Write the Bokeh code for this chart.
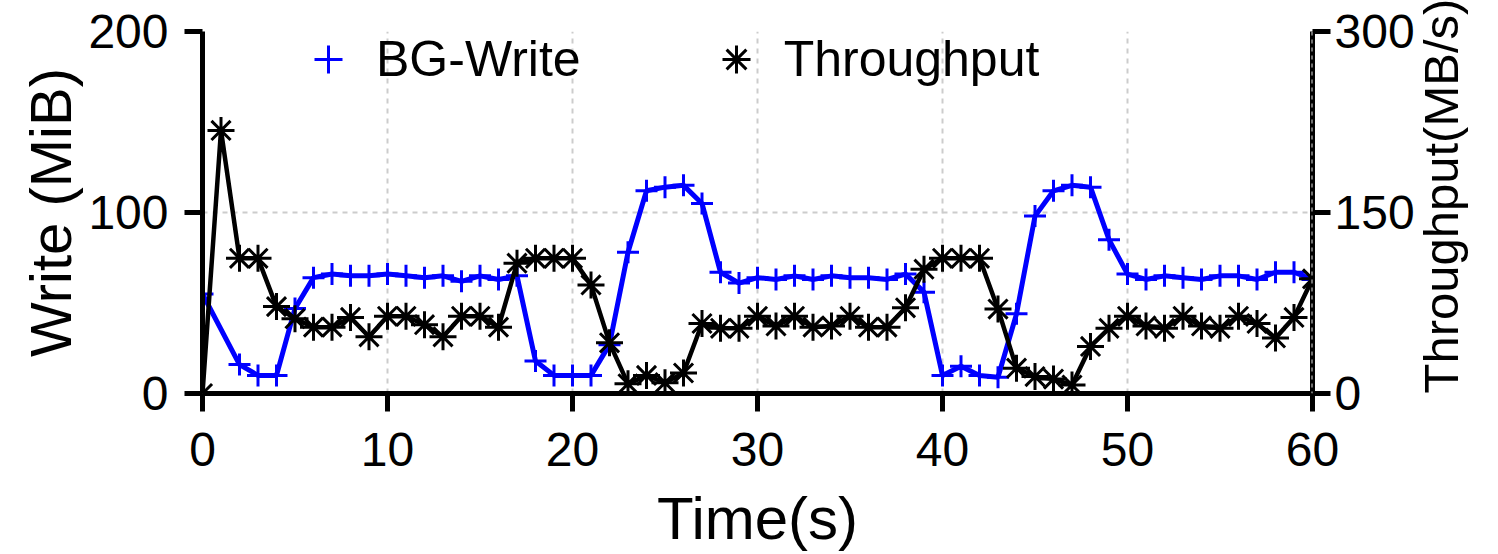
import math
from bokeh.plotting import figure
from bokeh.models import Range1d, LinearAxis, FixedTicker, Legend, LegendItem, Span
from bokeh.embed import file_html
from bokeh.resources import INLINE

# ---- data ----
bg_t = [0, 2, 3, 4, 5, 6, 7, 8, 9, 10, 11, 12, 13, 14, 15, 16, 17, 18, 19, 20,
        21, 22, 23, 24, 25, 26, 27, 28, 29, 30, 31, 32, 33, 34, 35, 36, 37, 38, 39, 40,
        41, 42, 43, 44, 45, 46, 47, 48, 49, 50, 51, 52, 53, 54, 55, 56, 57, 58, 59, 60]
bg_write = [55, 16, 10, 10, 47, 64, 66, 65, 65, 66, 65, 64, 65, 62, 65, 63, 65, 18, 10, 10,
            10, 27, 78, 112, 114, 115, 105, 67, 61, 64, 63, 65, 63, 65, 64, 64, 63, 66, 56, 10,
            15, 10, 9, 44, 98, 112, 115, 114, 85, 66, 63, 65, 64, 63, 65, 65, 63, 67, 67, 63]

tp_t = list(range(0, 61))
throughput = [0, 218, 112, 112, 72, 62, 55, 55, 63, 47, 64, 64, 57, 47, 64, 64, 55, 108, 112, 112,
              112, 90, 42, 8, 15, 9, 17, 58, 54, 54, 64, 56, 64, 55, 56, 64, 55, 55, 71, 103,
              112, 112, 112, 70, 21, 14, 12, 7, 39, 54, 64, 56, 54, 64, 56, 54, 64, 58, 46, 63,
              95]

x_ticks = [0, 10, 20, 30, 40, 50, 60]
left_ticks = [0, 100, 200]
right_ticks = [0, 150, 300]

FONT = "Liberation Sans"

p = figure(width=1498, height=554, output_backend="svg", toolbar_location=None,
           x_range=Range1d(0, 60), y_range=Range1d(0, 200),
           min_border_left=202, min_border_right=186, min_border_top=31, min_border_bottom=155)
p.outline_line_color = None
p.extra_y_ranges = {"tp": Range1d(0, 300)}

# grid
p.xgrid.ticker = FixedTicker(ticks=[10, 20, 30, 40, 50])
p.ygrid.ticker = FixedTicker(ticks=[100])
for g in (p.xgrid[0], p.ygrid[0]):
    g.grid_line_color = "#cccccc"
    g.grid_line_dash = "5 5"
    g.grid_line_width = 2

# renderers
bl = p.line(bg_t, bg_write, line_color="#0000ff", line_width=5)
bs = p.scatter(bg_t, bg_write, marker="cross", size=22, line_color="#0000ff", line_width=3)
tl = p.line(tp_t, throughput, line_color="black", line_width=4.5, y_range_name="tp")
ts = p.scatter(tp_t, throughput, marker="asterisk", size=27, line_color="black", line_width=3,
               y_range_name="tp")

def style_axis(ax):
    ax.axis_line_width = 5
    ax.axis_line_color = "black"
    ax.major_tick_line_width = 5
    ax.major_tick_in = 0
    ax.major_tick_out = 18
    ax.minor_tick_line_color = None
    ax.major_label_text_font = FONT
    ax.major_label_text_font_size = "48px"
    ax.major_label_text_color = "black"
    ax.axis_label_text_font = FONT
    ax.axis_label_text_font_style = "normal"
    ax.axis_label_text_color = "black"

xa = p.xaxis[0]
xa.ticker = FixedTicker(ticks=x_ticks)
xa.axis_label = "Time(s)"
style_axis(xa)
xa.axis_label_text_font_size = "60px"
xa.major_label_standoff = 21
xa.axis_label_standoff = 16

ya = p.yaxis[0]
ya.ticker = FixedTicker(ticks=left_ticks)
ya.axis_label = "Write (MiB)"
style_axis(ya)
ya.axis_label_text_font_size = "58px"
ya.major_label_standoff = 16
ya.axis_label_standoff = 2

ra = LinearAxis(y_range_name="tp", ticker=FixedTicker(ticks=right_ticks),
                axis_label="Throughput(MB/s)")
style_axis(ra)
ra.axis_label_text_font_size = "49px"
ra.axis_label_text_line_height = 0.6
ra.major_label_standoff = 4
ra.axis_label_standoff = 23
if "axis_label_orientation" in ra.properties():
    ra.axis_label_orientation = math.pi / 2
    ra.axis_label_align = "start"
p.add_layout(ra, "right")

p.add_layout(Span(location=60, dimension="height", line_color="#dddddd",
                  line_dash="4 4", line_width=2, level="overlay"))

legend = Legend(items=[LegendItem(label="BG-Write", renderers=[bs]),
                       LegendItem(label="Throughput", renderers=[ts])],
                orientation="horizontal", location=(78, 299),
                glyph_width=96, glyph_height=70, label_standoff=0, spacing=107,
                padding=0, margin=0, border_line_color=None, background_fill_alpha=0,
                label_text_font=FONT, label_text_font_size="50px", label_text_color="black")
p.add_layout(legend)

open("out.html", "w").write(file_html(p, INLINE))
